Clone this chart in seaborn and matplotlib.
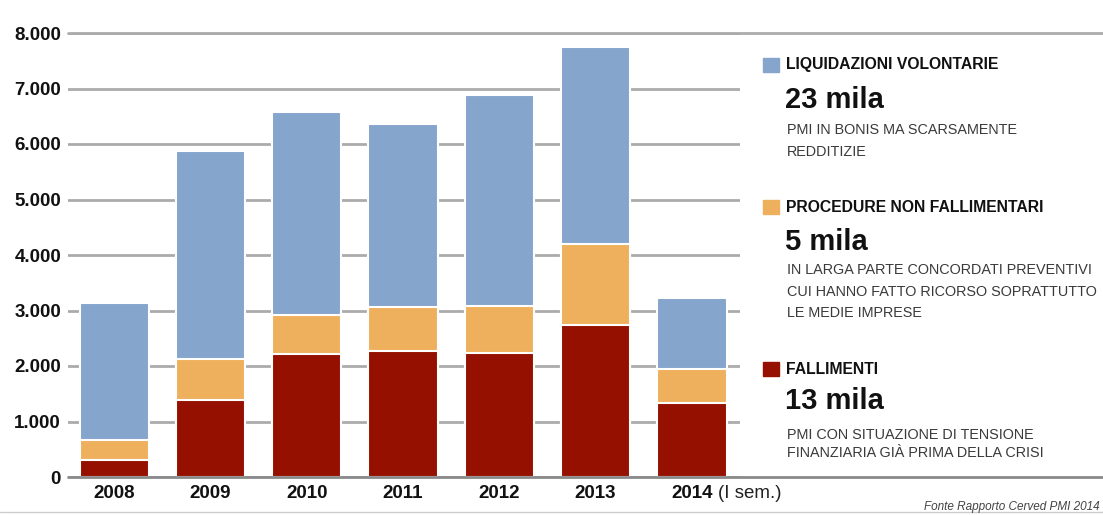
import pandas as pd
import matplotlib.pyplot as plt
import seaborn as sns
from matplotlib.lines import Line2D

# data
years = ['2008', '2009', '2010', '2011', '2012', '2013', '2014']
fallimenti = [300, 1385, 2212, 2271, 2242, 2736, 1325]
procedure = [374, 736, 705, 796, 843, 1464, 615]
liquidazioni = [2454, 3756, 3653, 3291, 3797, 3540, 1284]
y_ticks = [0, 1000, 2000, 3000, 4000, 5000, 6000, 7000, 8000]
y_labels = ['0', '1.000', '2.000', '3.000', '4.000', '5.000', '6.000', '7.000', '8.000']

RED = '#961000'
ORANGE = '#EFB05E'
BLUE = '#85A5CC'

df = pd.DataFrame({'year': years, 'fall': fallimenti, 'proc': procedure, 'liq': liquidazioni})
df['fall_proc'] = df['fall'] + df['proc']
df['total'] = df['fall_proc'] + df['liq']

sns.set_style('white')
plt.rcParams['font.family'] = ['Liberation Sans', 'DejaVu Sans']

fig = plt.figure(figsize=(11.03, 5.15), dpi=100)
ax = fig.add_axes([68 / 1103, 1 - 477 / 515, (740 - 68) / 1103, (477 - 33) / 515])

# stacked bars by overplotting cumulative totals
for col, color in [('total', BLUE), ('fall_proc', ORANGE), ('fall', RED)]:
    sns.barplot(data=df, x='year', y=col, color=color, width=0.72, saturation=1,
                edgecolor='white', linewidth=1.5, ax=ax, zorder=3)

ax.set_xlim(-0.48, 6.5)
ax.set_ylim(0, 8000)
ax.set_yticks(y_ticks)
ax.set_yticklabels(y_labels)
ax.set_xlabel('')
ax.set_ylabel('')
ax.yaxis.grid(True, color='#ababab', linewidth=2)
ax.xaxis.grid(False)
ax.set_axisbelow(True)
sns.despine(ax=ax, left=True, bottom=True)
ax.tick_params(axis='both', length=0, labelsize=13.5, colors='#111111')
ax.tick_params(axis='y', pad=5)
ax.tick_params(axis='x', pad=6)
for lab in ax.get_xticklabels() + ax.get_yticklabels():
    lab.set_fontweight('bold')

ax.annotate('(I sem.)', xy=(6, 0), xycoords='data', xytext=(18.5, -6),
            textcoords='offset points', ha='left', va='top', fontsize=13.5,
            color='#222222')

# full-width lines at 0 and 8000
for yv, c in [(0, '#8a8a8a'), (8000, '#ababab')]:
    ax.axhline(yv, xmin=0, xmax=(1103 - 68) / (740 - 68), color=c, linewidth=2,
               clip_on=False, zorder=4 if yv == 0 else 1)
fig.add_artist(Line2D([0, 1], [1 - 512 / 515] * 2, color='#cccccc', linewidth=1))

# legend blocks on the right
def px(x, y):
    return x / 1103, 1 - y / 515

blocks = [
    (BLUE, 65, 'LIQUIDAZIONI VOLONTARIE', 100, '23 mila', [130, 152],
     ['PMI IN BONIS MA SCARSAMENTE', 'REDDITIZIE']),
    (ORANGE, 207, 'PROCEDURE NON FALLIMENTARI', 242, '5 mila', [270, 292, 313],
     ['IN LARGA PARTE CONCORDATI PREVENTIVI', 'CUI HANNO FATTO RICORSO SOPRATTUTTO',
      'LE MEDIE IMPRESE']),
    (RED, 369, 'FALLIMENTI', 401, '13 mila', [435, 453],
     ['PMI CON SITUAZIONE DI TENSIONE', 'FINANZIARIA GIÀ PRIMA DELLA CRISI']),
]
for color, ty, title, by, big, ly, lines in blocks:
    fig.patches.append(plt.Rectangle(px(763, ty + 7), 16 / 1103, 14 / 515,
                                     transform=fig.transFigure, color=color))
    fig.text(*px(786, ty), title, fontsize=11.3, fontweight='bold', va='center',
             color='#111111')
    fig.text(*px(785, by), big, fontsize=21, fontweight='bold', va='center',
             color='#111111')
    for yy, line in zip(ly, lines):
        fig.text(*px(787, yy), line, fontsize=10.4, va='center', color='#3a3a3a')

fig.text(*px(1100, 507), 'Fonte Rapporto Cerved PMI 2014', fontsize=8.5,
         style='italic', va='center', ha='right', color='#444444')

fig.savefig('out.png', dpi=100)
